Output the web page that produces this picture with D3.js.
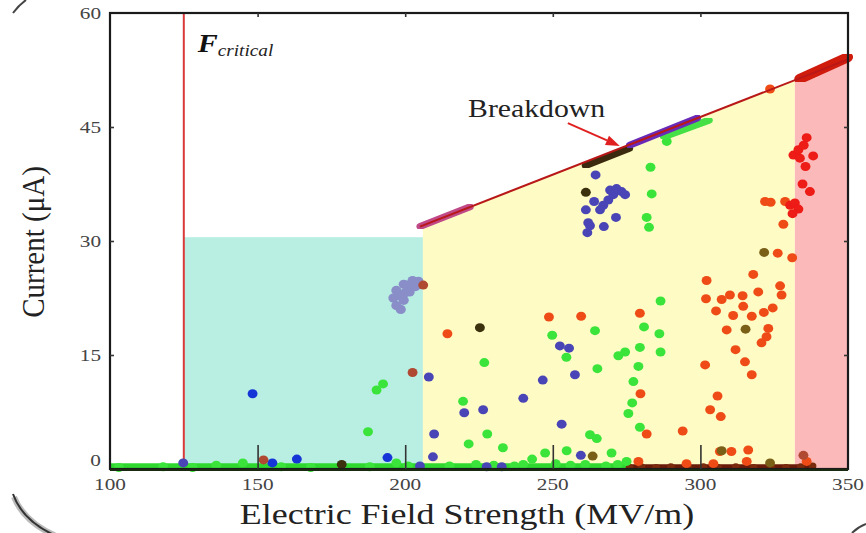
<!DOCTYPE html>
<html><head><meta charset="utf-8">
<script src="https://cdn.jsdelivr.net/npm/d3@7"></script>
<style>body{margin:0;background:#fff;} svg{display:block;font-family:"Liberation Serif","Times New Roman",serif;}</style>
</head><body><svg id="c" width="866" height="533"></svg>
<script>
// ---------- data ----------
const xTicks = [100, 150, 200, 250, 300, 350];
const yTicks = [0, 15, 30, 45, 60];
const criticalField = 125;
const safeZoneX = [125, 206];
const safeZoneTop = 30.5;
const warningX = [206, 332];
const dangerX = [332, 350];
const breakdownX = [205, 350];
const breakdownY = [31.9, 53.9];

const greenPts = [[187.4,4.9],[190.3,10.4],[192.5,11.2],[219.6,8.9],[221.5,3.3],[226.8,14.0],[227.8,4.6],[233.1,2.8],
 [243,1.3],[247.4,2.1],[249.8,17.6],[254.6,14.7],[254.7,2.4],[262.6,4.5],[264.9,4.0],[264.3,18.2],[265.1,13.2],
 [269.9,2.1],[272.2,14.9],[274.5,15.4],[275.6,7.3],[276.9,8.7],[277.3,11.5],[279,13.5],[279.5,16.0],[279.5,5.5],
 [280.9,18.7],[286.1,17.8],[286.5,15.4],[286.5,22.1],[281.8,33.1],[282.6,31.8],[283.5,36.2],[283.1,39.7],[288.6,43.1],
 [103,0.2],[118,0.3],[128,0.2],[136,0.5],[145,0.8],[158,0.3],[168,0.2],[188,0.3],[197,0.8],[201,0.4],[215,0.4],
 [224,0.6],[230,0.5],[237,0.4],[240,0.6],[251,0.7],[256,0.5],[261,0.6],[268,0.4],[272,0.6],[275,1.0]];
const bluePts = [[148.3,9.9],[163.3,1.3],[155,0.8],[194,1.5]];
const indigoPts = [[124.8,0.8],[208,12.1],[220,7.4],[209.8,4.6],[209.4,1.6],[246.6,11.7],[240,9.3],[252.4,16.2],
 [255.5,15.9],[257.5,12.4],[253,5.9],[259.5,1.8],[226.4,7.8],[264.5,38.7],[269.4,36.7],[271.6,36.9],[273.3,36.5],
 [274.5,36.1],[270.5,36.1],[268.8,35.4],[264,35.2],[267.1,34.7],[266,34.1],[261.2,34.1],[271.4,33.1],[262,32.4],
 [262.6,32.0],[267.3,31.9],[261.7,31.1],[205,0.4],[227.6,0.3],[232.7,0.3]];
const orangePts = [[214.3,17.8],[248.7,20.0],[259.6,20.1],[279.5,20.5],[279.7,9.9],[281.8,4.6],[294,5.0],[301.6,13.7],
 [302.1,24.8],[301.9,22.4],[303.3,7.8],[305.3,20.8],[305.8,9.6],[306.9,6.9],[306.6,2.3],[307.2,22.3],[308.9,18.3],
 [310,22.9],[311.1,20.2],[311.9,15.7],[314.3,22.8],[314.5,21.4],[315.1,14.1],[316.2,2.5],[310.5,2.3],[317.4,20.1],
 [317.4,12.4],[317.9,25.6],[319.6,23.3],[320.7,16.6],[321.5,20.6],[322.4,17.4],[323,18.5],[324.5,21.2],[327,24.1],
 [327.5,22.9],[326.2,28.4],[331.1,27.8],[321.9,35.2],[323.8,35.1],[328.7,35.2],[328.1,32.2],[323.6,50.0],
 [279,1.0],[295.3,0.7],[304.4,0.7],[315.7,1.0],[336,1.0]];
const redPts = [[331.5,41.3],[333.7,40.9],[333.2,42.0],[335,42.6],[336,43.6],[338.2,41.2],[335.6,39.8],[334.6,37.5],
 [337.1,36.5],[330.4,34.7],[332,35.0],[333.2,34.2],[331.2,33.6]];
const olivePts = [[315.3,18.4],[321.6,28.5],[307.2,2.4],[263.5,1.7],[323.6,0.8]];
const darkPts = [[225.3,18.6],[261.2,36.4],[178.5,0.6]];
const brownPts = [[152,1.2],[202.5,12.7],[206.1,24.2],[334.9,1.8]];
const greyPts = [[196,22.5],[197,21.5],[198,22.8],[198.5,21],[199.5,22.2],[197,23.5],[200,23.2],[201,24.2],
 [202.5,24.8],[203.5,24],[204.5,24.7],[199.5,24.3],[201.5,23.3]];
const darkRedBase = [[276,0.2],[280,0.3],[285,0.2],[290,0.3],[296,0.2],[301,0.3],[306,0.2],[312,0.3],[318,0.2],
 [324,0.3],[329,0.2],[334,0.3],[338,0.4]];
const greenBaseX = [100, 276];
const darkBaseX = [276, 338];
const segMagenta = [[205,31.9],[222,34.5]];
const segDark = [[261,39.9],[276,42.2]];
const segGreen = [[287.5,43.7],[303,45.9]];
const segPurple = [[276,42.6],[299,46.2]];
const segRed = [[333.5,51.3],[350,54.2]];
const arrowFrom = [255.1, 45.5];
const arrowTo = [272.7, 42.5];

// ---------- scales ----------
const svg = d3.select("#c");
const x = d3.scaleLinear().domain([100, 350]).range([110, 848]);
const y = d3.scaleLinear().domain([0, 60]).range([469, 13]);
const lineAt = d3.scaleLinear().domain(breakdownX).range(breakdownY);

// ---------- regions ----------
svg.append("rect").attr("x", x(safeZoneX[0])).attr("y", y(safeZoneTop))
  .attr("width", x(safeZoneX[1]) - x(safeZoneX[0])).attr("height", y(0) - y(safeZoneTop)).attr("fill", "#b9eee3");
const area = d3.area().x(d => x(d)).y0(y(0)).y1(d => y(lineAt(d)));
svg.append("path").attr("d", area(warningX)).attr("fill", "#fefcc4");
svg.append("path").attr("d", area(dangerX)).attr("fill", "#fbb9b9");

// critical line
svg.append("line").attr("x1", x(criticalField)).attr("x2", x(criticalField)).attr("y1", y(60)).attr("y2", y(0))
  .attr("stroke", "#d83a3a").attr("stroke-width", 2);

// baselines
const ln = d3.line().x(d => x(d[0])).y(d => y(d[1]));
svg.append("path").attr("d", ln(greenBaseX.map(v => [v, 0.35]))).attr("stroke", "#2fd82f").attr("stroke-width", 6).attr("fill", "none");
svg.append("path").attr("d", ln(darkBaseX.map(v => [v, 0.3]))).attr("stroke", "#6a1a08").attr("stroke-width", 5).attr("fill", "none");

// dots
const blur = svg.append("defs").append("filter").attr("id", "bl");
blur.append("feGaussianBlur").attr("stdDeviation", 0.6);
function dots(data, color, r) {
  svg.append("g").attr("filter", "url(#bl)").selectAll("ellipse").data(data).join("ellipse")
    .attr("cx", d => x(d[0])).attr("cy", d => y(d[1])).attr("rx", r * 1.1).attr("ry", r).attr("fill", color);
}
dots(darkRedBase, "#7a2a0a", 3.5);
dots(greyPts, "#8a8ec8", 4.6);
dots(greenPts, "#3ae43a", 4.5);
dots(bluePts, "#1536d6", 4.5);
dots(indigoPts, "#4a45b6", 4.5);
dots(orangePts, "#ef4b15", 4.5);
dots(redPts, "#ee1a14", 4.5);
dots(olivePts, "#7a5e18", 4.5);
dots(darkPts, "#3a3010", 4.5);
dots(brownPts, "#b04a30", 4.5);

// breakdown segments
function seg(d, color, w) {
  svg.append("path").attr("d", ln(d)).attr("stroke", color).attr("stroke-width", w).attr("stroke-linecap", "round").attr("fill", "none").attr("filter", "url(#bl)");
}
seg(segMagenta, "#c04888", 7);
seg(segDark, "#3a2a10", 7);
seg(segGreen, "#45e045", 7);
seg(segPurple, "#6a2ab8", 7);
seg(segRed, "#d01a10", 10);
svg.append("path").attr("d", ln(breakdownX.map((v, i) => [v, breakdownY[i]]))).attr("stroke", "#b81818").attr("stroke-width", 2).attr("fill", "none");

// frame
svg.append("rect").attr("x", 110).attr("y", 13).attr("width", 738).attr("height", 456)
  .attr("fill", "none").attr("stroke", "#1a1a1a").attr("stroke-width", 2.2);
svg.append("line").attr("x1", 110).attr("x2", 848).attr("y1", 470).attr("y2", 470).attr("stroke", "#1a2a10").attr("stroke-width", 2);

// ticks
function styleAxis(g) { g.select(".domain").remove(); g.selectAll(".tick line").attr("stroke", "#333").attr("stroke-width", 1.6); }
svg.append("g").attr("transform", "translate(0,469)").call(d3.axisBottom(x).tickValues(xTicks.slice(1, -1)).tickSize(-24).tickFormat("")).call(styleAxis);
svg.append("g").attr("transform", "translate(0,13)").call(d3.axisTop(x).tickValues(xTicks.slice(1, -1)).tickSize(-4).tickFormat("")).call(styleAxis);
svg.append("g").attr("transform", "translate(110,0)").call(d3.axisLeft(y).tickValues(yTicks.slice(1, -1)).tickSize(-4).tickFormat("")).call(styleAxis);
svg.append("g").attr("transform", "translate(848,0)").call(d3.axisRight(y).tickValues(yTicks.slice(1, -1)).tickSize(-4).tickFormat("")).call(styleAxis);

// text helper
function stext(px, py, str, size, sx, anchor, fill, extra) {
  const t = svg.append("text").attr("transform", `translate(${px},${py}) scale(${sx},1)` + (extra || ""))
    .attr("text-anchor", anchor).attr("font-size", size).attr("fill", fill).text(str);
  return t;
}
xTicks.forEach(v => stext(x(v), 490, String(v), 17, 1.25, "middle", "#444"));
yTicks.forEach(v => stext(101, y(v) + 6 - (v === 0 ? 9 : 0), String(v), 17, 1.25, "end", "#444"));

stext(467, 524, "Electric Field Strength (MV/m)", 29, 1.24, "middle", "#222");
stext(44, 242, "Current (μA)", 29, 1.1, "middle", "#222", " rotate(-90)");

// F critical label
const fl = svg.append("text").attr("transform", `translate(${x(criticalField) + 14},52) scale(1.2,1)`).attr("fill", "#111");
fl.append("tspan").attr("font-size", 25).attr("font-weight", "bold").attr("font-style", "italic").text("F");
fl.append("tspan").attr("font-size", 16).attr("font-style", "italic").attr("dy", 4).attr("fill", "#222").text("critical");

// Breakdown annotation
stext(x(221.3), 117, "Breakdown", 25, 1.19, "start", "#222");
const ax0 = x(arrowFrom[0]), ay0 = y(arrowFrom[1]), ax1 = x(arrowTo[0]), ay1 = y(arrowTo[1]);
const ang = Math.atan2(ay1 - ay0, ax1 - ax0);
const hl = 14, hw = 5;
const bx = ax1 - hl * Math.cos(ang), by = ay1 - hl * Math.sin(ang);
svg.append("line").attr("x1", ax0).attr("y1", ay0).attr("x2", bx).attr("y2", by).attr("stroke", "#e02020").attr("stroke-width", 2);
svg.append("path").attr("d", `M${ax1},${ay1} L${bx - hw * Math.sin(ang)},${by + hw * Math.cos(ang)} L${bx + hw * Math.sin(ang)},${by - hw * Math.cos(ang)} Z`).attr("fill", "#e02020");

// page frame remnants
svg.append("path").attr("d", "M14,497 Q24,522 56,536").attr("stroke", "#bbb").attr("stroke-width", 6).attr("fill", "none");
svg.append("path").attr("d", "M13,494 Q22,520 54,535").attr("stroke", "#333").attr("stroke-width", 2).attr("fill", "none");
svg.append("path").attr("d", "M13,13 Q19,5 26,0").attr("stroke", "#444").attr("stroke-width", 2).attr("fill", "none");
svg.append("path").attr("d", "M852,533 Q858,527 866,524").attr("stroke", "#444").attr("stroke-width", 2).attr("fill", "none");
</script></body></html>
